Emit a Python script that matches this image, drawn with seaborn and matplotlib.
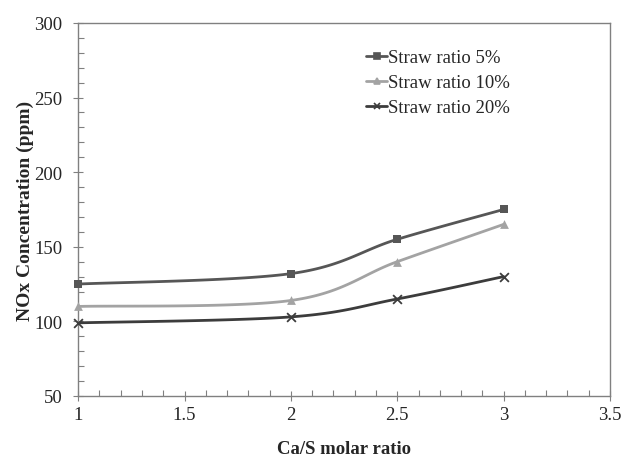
import numpy as np
import pandas as pd
import matplotlib
matplotlib.use('Agg')
import matplotlib.pyplot as plt
import seaborn as sns
from matplotlib.ticker import MultipleLocator

# Data
ca_s_ratio = [1, 2, 2.5, 3]
straw_5 = [125, 132, 155, 175]
straw_10 = [110, 114, 140, 165]
straw_20 = [99, 103, 115, 130]
series_names = ['Straw ratio 5%', 'Straw ratio 10%', 'Straw ratio 20%']

df = pd.DataFrame({'x': ca_s_ratio * 3,
                   'y': straw_5 + straw_10 + straw_20,
                   'series': np.repeat(series_names, len(ca_s_ratio))})

sns.set_style('ticks')
plt.rcParams['font.family'] = ['Liberation Serif', 'DejaVu Serif']

colors = {'Straw ratio 5%': '#565656', 'Straw ratio 10%': '#a3a3a3', 'Straw ratio 20%': '#3c3c3c'}
markers = {'Straw ratio 5%': 's', 'Straw ratio 10%': '^', 'Straw ratio 20%': 'x'}


def smooth(xs, ys, n=40):
    # Excel-style smoothed line (Catmull-Rom through the points)
    xs, ys = np.asarray(xs, float), np.asarray(ys, float)
    px = np.concatenate([[xs[0]], xs, [xs[-1]]])
    py = np.concatenate([[ys[0]], ys, [ys[-1]]])
    ox, oy = [], []
    for i in range(1, len(px) - 2):
        t = np.linspace(0, 1, n)
        for p, out in ((px, ox), (py, oy)):
            p0, p1, p2, p3 = p[i - 1], p[i], p[i + 1], p[i + 2]
            m1 = (p2 - p0) / 6
            m2 = (p3 - p1) / 6
            c1, c2 = p1 + m1, p2 - m2
            out.extend((1 - t) ** 3 * p1 + 3 * (1 - t) ** 2 * t * c1 + 3 * (1 - t) * t ** 2 * c2 + t ** 3 * p2)
    return ox, oy


fig, ax = plt.subplots(figsize=(6.25, 4.6), dpi=100)
fig.subplots_adjust(left=0.125, right=0.976, top=0.948, bottom=0.137)

for name in series_names:
    sub = df[df['series'] == name]
    sx, sy = smooth(sub['x'], sub['y'])
    ax.plot(sx, sy, color=colors[name], lw=2, zorder=2)
    sns.scatterplot(data=sub, x='x', y='y', color=colors[name], marker=markers[name],
                    s=40, linewidth=1.3 if markers[name] == 'x' else 0,
                    edgecolor=colors[name], ax=ax, zorder=3, legend=False, clip_on=False)

# legend handles: line + marker
for name in series_names:
    ax.plot([], [], color=colors[name], marker=markers[name], lw=2,
            markersize=5, markeredgewidth=1.2, label=name)
ax.legend(loc='upper left', bbox_to_anchor=(0.51, 0.975), frameon=False,
          fontsize=13.5, handlelength=1.1, handletextpad=0.05, labelspacing=0.42)

ax.set_xlim(1, 3.5)
ax.set_ylim(50, 300)
ax.xaxis.set_major_locator(MultipleLocator(0.5))
ax.xaxis.set_minor_locator(MultipleLocator(0.1))
ax.yaxis.set_major_locator(MultipleLocator(50))
ax.yaxis.set_minor_locator(MultipleLocator(10))
ax.set_xticks([1, 1.5, 2, 2.5, 3, 3.5], ['1', '1.5', '2', '2.5', '3', '3.5'])
ax.tick_params(which='major', direction='inout', length=7, width=0.8, color='#808080',
               labelsize=13.5)
ax.tick_params(axis='x', which='major', pad=4)
ax.tick_params(axis='y', which='major', pad=8)
ax.tick_params(which='minor', direction='in', length=4, width=0.8, color='#808080')
for s in ax.spines.values():
    s.set_color('#808080')
    s.set_linewidth(1)

ax.set_xlabel('Ca/S molar ratio', fontsize=13.5, fontweight='bold', labelpad=12)
ax.set_ylabel('NOx Concentration (ppm)', fontsize=14, fontweight='bold', labelpad=0)

fig.savefig('out.png', dpi=100)
